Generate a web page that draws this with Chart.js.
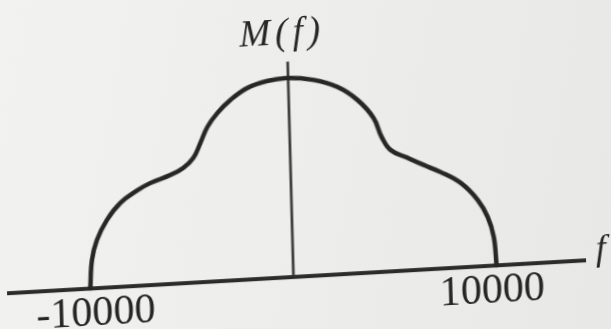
<!DOCTYPE html>
<html>
<head>
<meta charset="utf-8">
<script src="https://cdn.jsdelivr.net/npm/chart.js@4.4.1/dist/chart.umd.min.js"></script>
<style>
  html, body {
    margin: 0; padding: 0;
    width: 611px; height: 329px; overflow: hidden;
    background: linear-gradient(100deg, #f2f2f0 0%, #ececea 60%, #e8e8e6 100%);
  }
  /* slight skew, as on a photographed textbook page */
  #wrap {
    position: absolute; left: 0; top: 0;
    width: 611px; height: 329px;
    transform-origin: 293px 277px;
    transform: matrix(1, -0.057, 0.027, 1, 0, 0);
  }
  canvas { display: block; }
  .lbl {
    position: absolute; white-space: nowrap; line-height: 1;
    font-family: "Liberation Serif", "Times New Roman", serif; color: #262626;
  }
</style>
</head>
<body>
<div id="wrap"><canvas id="c" width="611" height="329"></canvas></div>
<script>
// Magnitude spectrum M(f), band-limited to |f| <= 10000
const freqs = [-10000, -9882, -9611, -9094, -8415, -7579, -6909, -5915, -5271, -4764,
               -4400, -4035, -3524, -2864, -2013, -1019, 0, 1245, 2416, 3386,
               4149, 4518, 4941, 5768, 6545, 7372, 8342, 9158, 9626, 9897, 10000];
const mags  = [0, 0.142, 0.241, 0.338, 0.419, 0.476, 0.510, 0.544, 0.576, 0.623,
               0.695, 0.773, 0.840, 0.902, 0.957, 0.986, 0.995, 0.978, 0.936, 0.865,
               0.771, 0.674, 0.606, 0.562, 0.522, 0.482, 0.422, 0.332, 0.244, 0.143, 0];

// axis extents
const freqAxis = [-14100, 14400];
const magAxisTop = 1.077;

// tick marks on the frequency axis
const tickFreqs  = [-10000, 10000];
const tickLabels = ['-10000', '10000'];

const yTitle = 'M(f)';
const xTitle = 'f';

const INK = '#262626';
const wrap = document.getElementById('wrap');

const chart = new Chart(document.getElementById('c'), {
  type: 'line',
  data: {
    datasets: [
      {
        label: 'M(f)',
        data: freqs.map((f, i) => ({ x: f, y: mags[i] })),
        borderColor: INK,
        borderWidth: 4.5,
        pointRadius: 0,
        tension: 0.4,
        borderCapStyle: 'round',
        borderJoinStyle: 'round',
        clip: false
      },
      {
        label: 'f axis',
        data: [{ x: freqAxis[0], y: 0 }, { x: freqAxis[1], y: 0 }],
        borderColor: '#2b2b2b',
        borderWidth: 4,
        pointRadius: 0,
        tension: 0,
        clip: false
      },
      {
        label: 'M axis',
        data: [{ x: 0, y: 0 }, { x: 0, y: magAxisTop }],
        borderColor: '#2b2b2b',
        borderWidth: 2.5,
        pointRadius: 0,
        tension: 0,
        clip: false
      }
    ]
  },
  options: {
    responsive: false,
    animation: false,
    devicePixelRatio: 1,
    layout: { padding: { left: 7, right: 25, top: 57, bottom: 52 } },
    scales: {
      x: { type: 'linear', min: freqAxis[0], max: freqAxis[1], display: false },
      y: { type: 'linear', min: 0, max: 1.1, display: false }
    },
    plugins: { legend: { display: false }, tooltip: { enabled: false } }
  }
});

// Text labels, placed from the chart's scales; (px, baseline) is the anchor
function placeText(text, size, italic, spacing, px, baseline, align) {
  const el = document.createElement('div');
  el.className = 'lbl';
  el.style.fontSize = size + 'px';
  el.style.fontStyle = italic ? 'italic' : 'normal';
  el.style.letterSpacing = spacing + 'px';
  el.textContent = text;
  const mark = document.createElement('span');
  mark.style.cssText = 'display:inline-block;width:0;height:0;vertical-align:baseline;';
  el.appendChild(mark);
  el.style.left = '0px';
  el.style.top = '0px';
  wrap.appendChild(el);
  const base = mark.offsetTop;
  const w = el.offsetWidth - (spacing > 0 ? spacing : 0);
  const left = align === 'center' ? px - w / 2 : px;
  el.style.left = left + 'px';
  el.style.top = (baseline - base) + 'px';
}

const xs = chart.scales.x, ys = chart.scales.y;
const y0 = ys.getPixelForValue(0);
const tickInset = 5;   // labels sit a little inside their tick positions
tickFreqs.forEach((f, i) => {
  const px = xs.getPixelForValue(f) - Math.sign(f) * tickInset;
  placeText(tickLabels[i], 42, false, 0, px, y0 + 37, 'center');
});
placeText(yTitle, 37, true, 5, xs.getPixelForValue(0) - 7, ys.getPixelForValue(magAxisTop) - 18, 'center');
placeText(xTitle, 36, true, 0, xs.getPixelForValue(freqAxis[1]) + 10, y0, 'left');
</script>
</body>
</html>
